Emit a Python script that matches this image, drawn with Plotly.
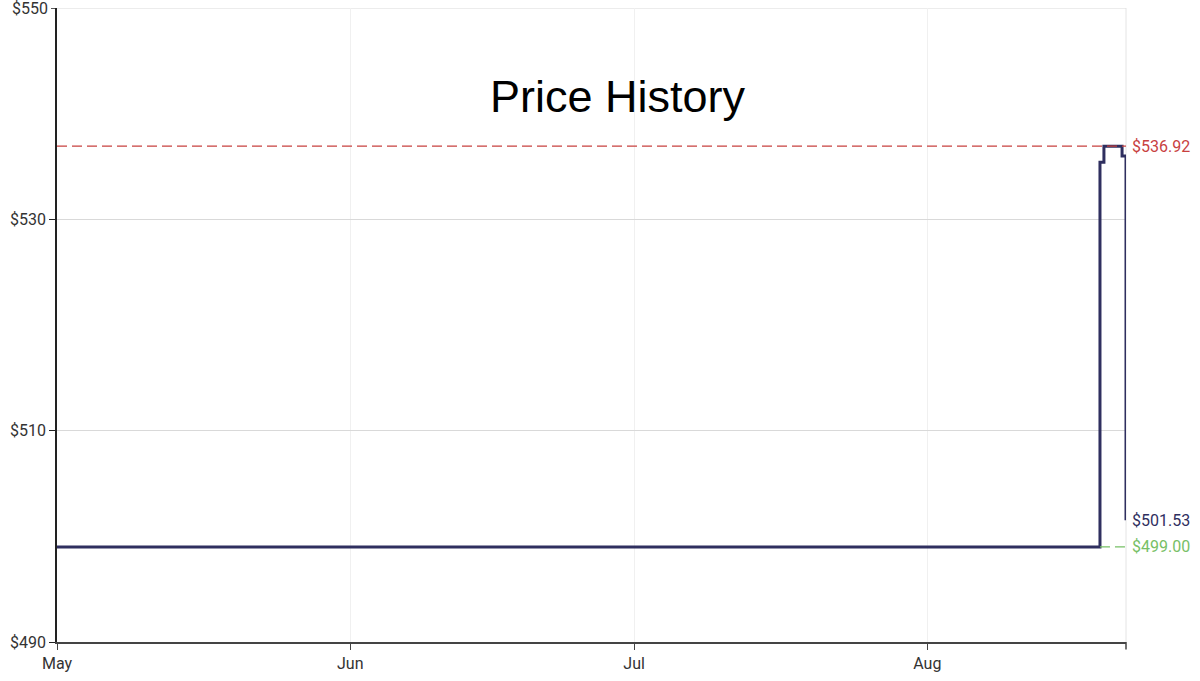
import plotly.graph_objects as go

# Data
dates = ["2024-05-01 00:00", "2024-08-19 06:00", "2024-08-19 16:00", "2024-08-21 14:00", "2024-08-22 00:00"]
prices = [499.00, 535.40, 536.92, 536.00, 501.53]
highest_price = 536.92
lowest_price = 499.00
current_price = 501.53
x_start = "2024-05-01"
x_end = "2024-08-22"
lowest_from = "2024-08-19 06:00"
tick_vals_x = ["2024-05-01", "2024-06-01", "2024-07-01", "2024-08-01"]
tick_text_x = ["May", "Jun", "Jul", "Aug"]
tick_vals_y = [490, 510, 530, 550]
tick_text_y = ["$490", "$510", "$530", "$550"]

navy = "#2f2f5f"
red = "#c8413f"
green = "#77c066"
font = "Roboto"
gridc = "#d9d9d9"

fig = go.Figure()
fig.add_trace(go.Scatter(
    x=dates, y=prices, mode="lines", line=dict(color=navy, width=3, shape="hv"),
    hoverinfo="skip", showlegend=False,
))

fig.add_shape(type="line", xref="x", yref="y", x0=x_start, x1=x_end,
              y0=highest_price, y1=highest_price, line=dict(color=red, width=1.3, dash="10px,5px"))
fig.add_shape(type="line", xref="x", yref="y", x0=lowest_from, x1=x_end,
              y0=lowest_price, y1=lowest_price, line=dict(color=green, width=1.3, dash="10px,5px"))
# right border line
fig.add_shape(type="line", xref="paper", yref="paper", x0=1, x1=1, y0=0, y1=1,
              line=dict(color="#e4e4e4", width=1), layer="below")
# end tick on x axis
fig.add_shape(type="line", xref="paper", yref="paper", x0=1, x1=1, y0=0, y1=-0.012,
              line=dict(color="#444", width=1.5))

# top y tick (drawn manually, plotly drops the edge tick)
top_val = tick_vals_y[-1]
fig.add_shape(type="line", xref="paper", yref="y", x0=0, x1=1, y0=top_val, y1=top_val,
              line=dict(color=gridc, width=1), layer="below")
fig.add_shape(type="line", xref="paper", yref="y", x0=-6 / 1069, x1=0, y0=top_val, y1=top_val,
              line=dict(color="#222", width=1.5))
fig.add_annotation(x=0, xref="paper", y=top_val, yref="y", text=tick_text_y[-1],
                   showarrow=False, xanchor="right", xshift=-7,
                   font=dict(family=font, size=16, color="#333"))

for val, col in [(highest_price, red), (current_price, navy), (lowest_price, green)]:
    fig.add_annotation(x=1, xref="paper", y=val, yref="y", text=f"${val:.2f}",
                       showarrow=False, xanchor="left", xshift=4,
                       font=dict(family=font, size=16, color=col))

fig.add_annotation(x=0.525, xref="paper", y=0.861, yref="paper", yanchor="middle",
                   text="Price History",
                   showarrow=False, font=dict(family="Liberation Sans, Arial", size=45, color="#000"))

fig.add_annotation(x=0.508, xref="paper", y=-0.06, yref="paper", yanchor="top",
                   text="Created on camelcamelcamel.com — price history for this product on Amazon",
                   showarrow=False, font=dict(family=font, size=12, color="#999"))

fig.update_layout(
    width=1200, height=681,
    margin=dict(l=57, r=74, t=8, b=39),
    paper_bgcolor="white", plot_bgcolor="white",
    font=dict(family=font, size=16, color="#333"),
    xaxis=dict(
        range=[x_start, x_end], tickvals=tick_vals_x, ticktext=tick_text_x,
        showgrid=True, gridcolor="#f0f0f0", gridwidth=1,
        showline=True, linecolor="#444", linewidth=2,
        ticks="outside", ticklen=6, tickcolor="#444", tickwidth=1,
        zeroline=False, tickfont=dict(family=font, size=16, color="#333"),
    ),
    yaxis=dict(
        range=[490, 550], tickvals=tick_vals_y[:-1], ticktext=tick_text_y[:-1],
        showgrid=True, gridcolor=gridc, gridwidth=1,
        showline=True, linecolor="#222", linewidth=1.5,
        ticks="outside", ticklen=6, tickcolor="#222",
        zeroline=False, tickfont=dict(family=font, size=16, color="#333"),
    ),
)

fig.write_html("out.html", config={"displayModeBar": False},
               post_script="document.body.style.margin='0';")
